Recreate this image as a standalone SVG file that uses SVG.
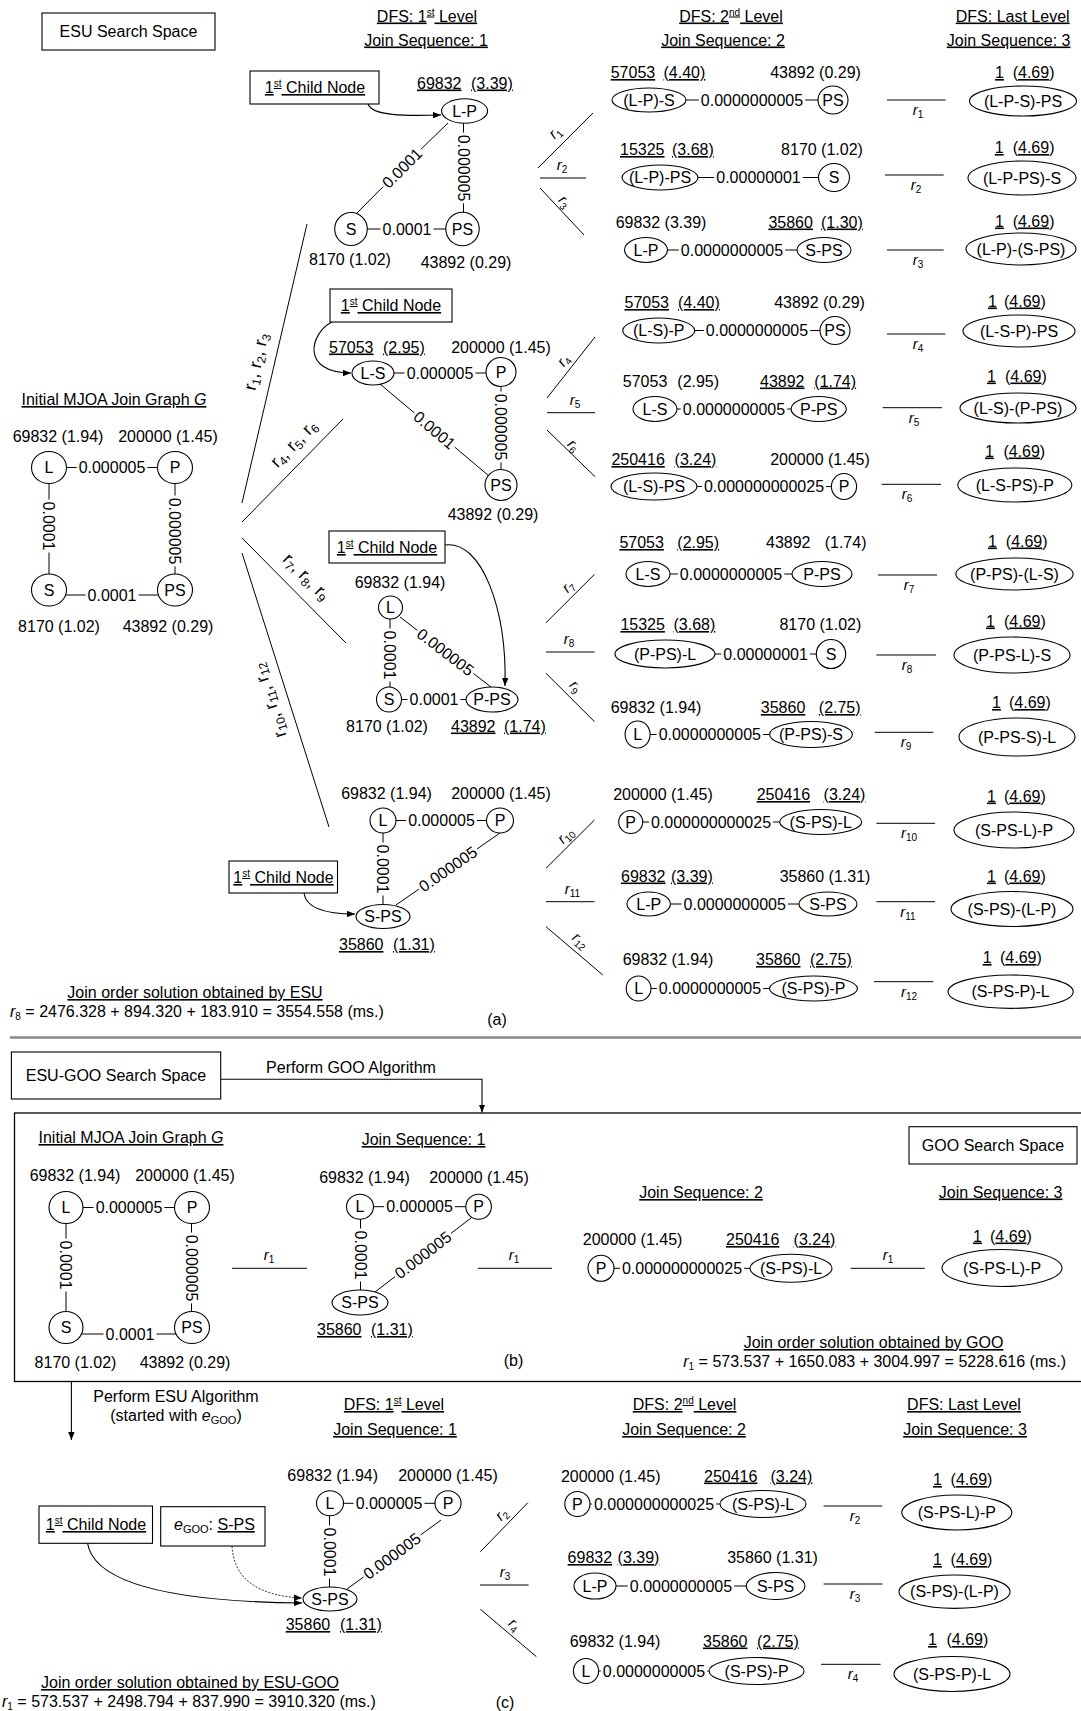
<svg xmlns="http://www.w3.org/2000/svg" width="1081" height="1711" viewBox="0 0 1081 1711">
<defs>
<style>
text{font-family:"Liberation Sans",Arial,Helvetica,sans-serif;font-size:16px;fill:#000}
.m{text-anchor:middle}
.en{text-anchor:end}
.u{text-decoration:underline}
.i{font-style:italic}
.s{font-size:10px}
.sp{font-size:10px}
.rl{font-size:15px}
.fl{font-size:18px}
.fs{font-size:12px}
.n{fill:#fff;stroke:#000;stroke-width:1.1}
.bx{fill:#fff;stroke:#000;stroke-width:1.1}
.e{stroke:#000;stroke-width:1;fill:none}
.ar{stroke:#000;stroke-width:1.1;fill:none;marker-end:url(#ah)}
.dt{stroke:#000;stroke-width:0.8;fill:none;stroke-dasharray:2 1.5;marker-end:url(#ah)}
</style>
<marker id="ah" viewBox="0 0 10 8" refX="10" refY="4" markerWidth="8" markerHeight="6.4" orient="auto" markerUnits="userSpaceOnUse"><path d="M0,0 L10,4 L0,8 z" fill="#000"/></marker>
</defs>
<rect width="1081" height="1711" fill="#fff"/>

<!-- frames -->
<line x1="10" y1="1037.5" x2="1081" y2="1037.5" stroke="#888" stroke-width="2.5"/>
<rect x="14.5" y="1113" width="1080" height="268.5" fill="none" stroke="#000" stroke-width="1.3"/>

<g id="connectors">
<!-- (a) initial graph -->
<path class="e" d="M49 467.5 H76.6 M147.4 467.5 H175"/>
<path class="e" d="M49 467.5 V499.5 M49 552.5 V590"/>
<path class="e" d="M49 595 H85.5 M138.5 595 H175"/>
<path class="e" d="M175 467.5 V495.6 M175 566.4 V590"/>
<text class="m" x="112" y="473.2">0.000005</text>
<text class="m" transform="translate(49,526) rotate(90)" y="5.7">0.0001</text>
<text class="m" x="112" y="600.7">0.0001</text>
<text class="m" transform="translate(175,531) rotate(90)" y="5.7">0.000005</text>
<!-- big fan -->
<line class="e" x1="307" y1="224" x2="242" y2="503"/>
<line class="e" x1="242" y1="522" x2="343" y2="419"/>
<line class="e" x1="242" y1="538" x2="346" y2="643"/>
<line class="e" x1="242" y1="553" x2="329" y2="827"/>
<text class="m fl" transform="translate(258,362) rotate(-77)" y="4"><tspan>r</tspan><tspan class="fs" dy="3">1</tspan><tspan dy="-3">, r</tspan><tspan class="fs" dy="3">2</tspan><tspan dy="-3">, r</tspan><tspan class="fs" dy="3">3</tspan></text>
<text class="m fl" transform="translate(295,445) rotate(-45.6)" y="4"><tspan>r</tspan><tspan class="fs" dy="3">4</tspan><tspan dy="-3">, r</tspan><tspan class="fs" dy="3">5</tspan><tspan dy="-3">, r</tspan><tspan class="fs" dy="3">6</tspan></text>
<text class="m fl" transform="translate(305,578) rotate(45.3)" y="4"><tspan>r</tspan><tspan class="fs" dy="3">7</tspan><tspan dy="-3">, r</tspan><tspan class="fs" dy="3">8</tspan><tspan dy="-3">, r</tspan><tspan class="fs" dy="3">9</tspan></text>
<text class="m fl" transform="translate(271,700) rotate(-107.6)" y="4"><tspan>r</tspan><tspan class="fs" dy="3">10</tspan><tspan dy="-3">, r</tspan><tspan class="fs" dy="3">11</tspan><tspan dy="-3">, r</tspan><tspan class="fs" dy="3">12</tspan></text>
<!-- G1 -->
<path class="e" d="M463.5 111 V132.6 M463.5 203.4 V229"/>
<line class="e" x1="448" y1="123" x2="420.8" y2="149.4"/>
<line class="e" x1="383.2" y1="186.6" x2="357" y2="213"/>
<path class="e" d="M351 229 H380.5 M433.5 229 H462.5"/>
<text class="m" transform="translate(463.5,168) rotate(90)" y="5.7">0.000005</text>
<text class="m" transform="translate(402,168) rotate(-45)" y="5.7">0.0001</text>
<text class="m" x="407" y="234.7">0.0001</text>
<path class="ar" d="M368 104 C372 116 405 116 441 115"/>
<!-- G2 -->
<path class="e" d="M373 373 H404.6 M475.4 373 H501"/>
<path class="e" d="M501 372 V391.6 M501 462.4 V485"/>
<line class="e" x1="380" y1="384" x2="414.3" y2="412.9"/>
<line class="e" x1="454.7" y1="447.1" x2="489" y2="476"/>
<text class="m" x="440" y="378.7">0.000005</text>
<text class="m" transform="translate(501,427) rotate(90)" y="5.7">0.000005</text>
<text class="m" transform="translate(434.5,430) rotate(40.2)" y="5.7">0.0001</text>
<path class="ar" d="M332 322 C310 333 300 373 351 373"/>
<!-- G3 -->
<path class="e" d="M390 607.5 V628.5 M390 681.5 V699.5"/>
<path class="e" d="M389 699.5 H407.5 M460.5 699.5 H492"/>
<line class="e" x1="400" y1="617" x2="417.4" y2="630.4"/>
<line class="e" x1="473.6" y1="673.6" x2="491" y2="687"/>
<text class="m" transform="translate(390,655) rotate(90)" y="5.7">0.0001</text>
<text class="m" x="434" y="705.2">0.0001</text>
<text class="m" transform="translate(445.5,652) rotate(37.6)" y="5.7">0.000005</text>
<path class="ar" d="M445 545 C482 540 507 610 505 686"/>
<!-- G4 -->
<path class="e" d="M383 820.5 H406.1 M476.9 820.5 H500"/>
<path class="e" d="M383 820.5 V842.5 M383 895.5 V916.5"/>
<line class="e" x1="500" y1="833" x2="477.1" y2="848.9"/>
<line class="e" x1="418.9" y1="889.1" x2="396" y2="905"/>
<text class="m" x="441.5" y="826.2">0.000005</text>
<text class="m" transform="translate(383,869) rotate(90)" y="5.7">0.0001</text>
<text class="m" transform="translate(448,869) rotate(-34.7)" y="5.7">0.000005</text>
<path class="ar" d="M304 893 C306 910 330 914 355 914"/>
<!-- small fans (a) -->
<line class="e" x1="538" y1="168" x2="593" y2="113"/>
<line class="e" x1="540" y1="178" x2="586" y2="178"/>
<line class="e" x1="540" y1="188" x2="584" y2="235"/>
<text class="m rl" transform="translate(555.5,133) rotate(-45)" y="4"><tspan class="i">r</tspan><tspan class="s" dy="3">1</tspan></text>
<text class="m rl" x="562" y="170"><tspan class="i">r</tspan><tspan class="s" dy="3">2</tspan></text>
<text class="m rl" transform="translate(564,202) rotate(45)" y="4"><tspan class="i">r</tspan><tspan class="s" dy="3">3</tspan></text>
<line class="e" x1="547" y1="398" x2="595" y2="337"/>
<line class="e" x1="547" y1="412.7" x2="595" y2="412.7"/>
<line class="e" x1="547" y1="430" x2="595" y2="476.7"/>
<text class="m rl" transform="translate(564,361) rotate(-52)" y="4"><tspan class="i">r</tspan><tspan class="s" dy="3">4</tspan></text>
<text class="m rl" x="575" y="405"><tspan class="i">r</tspan><tspan class="s" dy="3">5</tspan></text>
<text class="m rl" transform="translate(573,446) rotate(44)" y="4"><tspan class="i">r</tspan><tspan class="s" dy="3">6</tspan></text>
<line class="e" x1="546" y1="622.7" x2="594.5" y2="574.3"/>
<line class="e" x1="546" y1="652" x2="594.5" y2="652"/>
<line class="e" x1="546" y1="673.3" x2="594.5" y2="721.7"/>
<text class="m rl" transform="translate(568.6,587) rotate(-45)" y="4"><tspan class="i">r</tspan><tspan class="s" dy="3">7</tspan></text>
<text class="m rl" x="569" y="644"><tspan class="i">r</tspan><tspan class="s" dy="3">8</tspan></text>
<text class="m rl" transform="translate(575,687) rotate(45)" y="4"><tspan class="i">r</tspan><tspan class="s" dy="3">9</tspan></text>
<line class="e" x1="546" y1="868.3" x2="594.5" y2="820"/>
<line class="e" x1="546" y1="901.7" x2="594.5" y2="901.7"/>
<line class="e" x1="546" y1="926.7" x2="602.8" y2="975"/>
<text class="m rl" transform="translate(566,836) rotate(-45)" y="4"><tspan class="i">r</tspan><tspan class="s" dy="3">10</tspan></text>
<text class="m rl" x="572.5" y="894"><tspan class="i">r</tspan><tspan class="s" dy="3">11</tspan></text>
<text class="m rl" transform="translate(580,941) rotate(40)" y="4"><tspan class="i">r</tspan><tspan class="s" dy="3">12</tspan></text>
<!-- row edges (a) -->
<path class="e" d="M649 100 H698.8 M805.2 100 H833"/><text class="m" x="752" y="105.7">0.0000000005</text>
<path class="e" d="M660 177.5 H714.2 M802.8 177.5 H834"/><text class="m" x="758.5" y="183.2">0.00000001</text>
<path class="e" d="M646 250 H678.8 M785.2 250 H824"/><text class="m" x="732" y="255.7">0.0000000005</text>
<path class="e" d="M658.7 330.5 H703.8 M810.2 330.5 H835"/><text class="m" x="757" y="336.2">0.0000000005</text>
<path class="e" d="M655 409 H680.8 M787.2 409 H818.7"/><text class="m" x="734" y="414.7">0.0000000005</text>
<path class="e" d="M654 486.5 H701.9 M826.1 486.5 H844"/><text class="m" x="764" y="492.2">0.000000000025</text>
<path class="e" d="M648 574 H677.8 M784.2 574 H822"/><text class="m" x="731" y="579.7">0.0000000005</text>
<path class="e" d="M665 654 H721.3 M809.9 654 H831"/><text class="m" x="765.6" y="659.7">0.00000001</text>
<path class="e" d="M637.6 734.5 H656.6 M763 734.5 H811"/><text class="m" x="709.8" y="740.2">0.0000000005</text>
<path class="e" d="M630.7 822 H648.9 M773.1 822 H820.7"/><text class="m" x="711" y="827.7">0.000000000025</text>
<path class="e" d="M648.7 904 H681.5 M787.9 904 H828"/><text class="m" x="734.7" y="909.7">0.0000000005</text>
<path class="e" d="M638.6 988.5 H656.8 M763.2 988.5 H813.5"/><text class="m" x="710" y="994.2">0.0000000005</text>
<!-- r lines (a) -->
<line class="e" x1="887" y1="100" x2="945.5" y2="100"/><text class="m rl" x="918" y="115"><tspan class="i">r</tspan><tspan class="s" dy="3">1</tspan></text>
<line class="e" x1="885" y1="175" x2="943.7" y2="175"/><text class="m rl" x="916" y="190"><tspan class="i">r</tspan><tspan class="s" dy="3">2</tspan></text>
<line class="e" x1="887" y1="250" x2="943.7" y2="250"/><text class="m rl" x="918" y="265"><tspan class="i">r</tspan><tspan class="s" dy="3">3</tspan></text>
<line class="e" x1="887" y1="334" x2="945.5" y2="334"/><text class="m rl" x="918" y="349"><tspan class="i">r</tspan><tspan class="s" dy="3">4</tspan></text>
<line class="e" x1="882.6" y1="407.7" x2="942" y2="407.7"/><text class="m rl" x="914" y="422.7"><tspan class="i">r</tspan><tspan class="s" dy="3">5</tspan></text>
<line class="e" x1="881.6" y1="484.3" x2="941" y2="484.3"/><text class="m rl" x="907" y="499.3"><tspan class="i">r</tspan><tspan class="s" dy="3">6</tspan></text>
<line class="e" x1="878" y1="575" x2="937" y2="575"/><text class="m rl" x="909" y="590"><tspan class="i">r</tspan><tspan class="s" dy="3">7</tspan></text>
<line class="e" x1="876.4" y1="655" x2="936" y2="655"/><text class="m rl" x="907" y="670"><tspan class="i">r</tspan><tspan class="s" dy="3">8</tspan></text>
<line class="e" x1="874.7" y1="732.3" x2="933.4" y2="732.3"/><text class="m rl" x="906" y="747.3"><tspan class="i">r</tspan><tspan class="s" dy="3">9</tspan></text>
<line class="e" x1="876.4" y1="823.3" x2="935" y2="823.3"/><text class="m rl" x="909" y="838.3"><tspan class="i">r</tspan><tspan class="s" dy="3">10</tspan></text>
<line class="e" x1="876.4" y1="901.7" x2="935" y2="901.7"/><text class="m rl" x="908" y="916.7"><tspan class="i">r</tspan><tspan class="s" dy="3">11</tspan></text>
<line class="e" x1="874" y1="981.7" x2="933.4" y2="981.7"/><text class="m rl" x="909" y="996.7"><tspan class="i">r</tspan><tspan class="s" dy="3">12</tspan></text>

<!-- (b) -->
<path class="ar" d="M220.7 1079.3 H482 V1112.5"/>
<path class="e" d="M66 1207.5 H93.6 M164.4 1207.5 H192"/>
<path class="e" d="M66 1207.5 V1238.5 M66 1291.5 V1327.5"/>
<path class="e" d="M66 1334 H103.5 M156.5 1334 H192"/>
<path class="e" d="M191.5 1207.5 V1232.6 M191.5 1303.4 V1327.5"/>
<text class="m" x="129" y="1213.2">0.000005</text>
<text class="m" transform="translate(66,1265) rotate(90)" y="5.7">0.0001</text>
<text class="m" x="130" y="1339.7">0.0001</text>
<text class="m" transform="translate(191.5,1268) rotate(90)" y="5.7">0.000005</text>
<line class="e" x1="232" y1="1268.3" x2="307" y2="1268.3"/><text class="m rl" x="269" y="1260"><tspan class="i">r</tspan><tspan class="s" dy="3">1</tspan></text>
<path class="e" d="M360 1206.7 H384.1 M454.9 1206.7 H478.6"/>
<path class="e" d="M360.5 1206.7 V1228.5 M360.5 1281.5 V1302.5"/>
<line class="e" x1="471" y1="1218" x2="451" y2="1233.4"/>
<line class="e" x1="395" y1="1276.6" x2="375" y2="1292"/>
<text class="m" x="419.5" y="1212.4">0.000005</text>
<text class="m" transform="translate(360.5,1255) rotate(90)" y="5.7">0.0001</text>
<text class="m" transform="translate(423,1255) rotate(-37.6)" y="5.7">0.000005</text>
<line class="e" x1="478" y1="1268.3" x2="552" y2="1268.3"/><text class="m rl" x="514" y="1260"><tspan class="i">r</tspan><tspan class="s" dy="3">1</tspan></text>
<path class="e" d="M601 1268.3 H619.9 M744.1 1268.3 H791"/><text class="m" x="682" y="1274">0.000000000025</text>
<line class="e" x1="850.6" y1="1268.3" x2="924.7" y2="1268.3"/><text class="m rl" x="888" y="1260"><tspan class="i">r</tspan><tspan class="s" dy="3">1</tspan></text>

<!-- (c) -->
<path class="ar" d="M71.4 1382 V1440"/>
<path class="e" d="M330 1503.3 H353.6 M424.4 1503.3 H448"/>
<path class="e" d="M329.5 1503.3 V1525.5 M329.5 1578.5 V1599"/>
<line class="e" x1="441" y1="1520" x2="420.5" y2="1535"/>
<line class="e" x1="363.5" y1="1577" x2="343" y2="1592"/>
<text class="m" x="389" y="1509">0.000005</text>
<text class="m" transform="translate(329.5,1552) rotate(90)" y="5.7">0.0001</text>
<text class="m" transform="translate(392,1556) rotate(-36.3)" y="5.7">0.000005</text>
<path class="ar" d="M87.5 1543 C95 1590 200 1602 302 1603"/>
<path class="dt" d="M232 1546 C234 1582 262 1596 302 1598"/>
<line class="e" x1="480.4" y1="1551.7" x2="527.9" y2="1502.7"/>
<line class="e" x1="480" y1="1585" x2="528.6" y2="1585"/>
<line class="e" x1="480.4" y1="1609.3" x2="536.4" y2="1656.7"/>
<text class="m rl" transform="translate(502,1515) rotate(-46)" y="4"><tspan class="i">r</tspan><tspan class="s" dy="3">2</tspan></text>
<text class="m rl" x="505" y="1577"><tspan class="i">r</tspan><tspan class="s" dy="3">3</tspan></text>
<text class="m rl" transform="translate(514,1625) rotate(40)" y="4"><tspan class="i">r</tspan><tspan class="s" dy="3">4</tspan></text>
<path class="e" d="M577.4 1504 H591.9 M716.1 1504 H763"/><text class="m" x="654" y="1509.7">0.000000000025</text>
<path class="e" d="M595 1586 H627.8 M734.2 1586 H775.6"/><text class="m" x="681" y="1591.7">0.0000000005</text>
<path class="e" d="M586 1671 H600.8 M707.2 1671 H756.6"/><text class="m" x="654" y="1676.7">0.0000000005</text>
<line class="e" x1="823.6" y1="1506" x2="882.3" y2="1506"/><text class="m rl" x="855" y="1521"><tspan class="i">r</tspan><tspan class="s" dy="3">2</tspan></text>
<line class="e" x1="823.6" y1="1584" x2="882.3" y2="1584"/><text class="m rl" x="855" y="1599"><tspan class="i">r</tspan><tspan class="s" dy="3">3</tspan></text>
<line class="e" x1="821" y1="1664.3" x2="880.6" y2="1664.3"/><text class="m rl" x="853" y="1679.3"><tspan class="i">r</tspan><tspan class="s" dy="3">4</tspan></text>
</g>

<!-- headers and boxes -->
<g id="box-esu"><rect class="bx" x="42" y="13" width="173" height="37"/><text class="m" x="128.5" y="37.2">ESU Search Space</text></g>
<g id="headers-a">
<text class="m u" x="427" y="21.5">DFS: 1<tspan class="sp" dy="-6">st</tspan><tspan dy="6"> Level</tspan></text>
<text class="m u" x="426" y="45.5">Join Sequence: 1</text>
<text class="m u" x="731" y="21.5">DFS: 2<tspan class="sp" dy="-6">nd</tspan><tspan dy="6"> Level</tspan></text>
<text class="m u" x="723" y="45.5">Join Sequence: 2</text>
<text class="m u" x="1012.7" y="21.5">DFS: Last Level</text>
<text class="m u" x="1008.6" y="45.5">Join Sequence: 3</text>
<text class="m u" x="114" y="405">Initial MJOA Join Graph <tspan class="i">G</tspan></text>
</g>

<g id="child-boxes-a">
<rect class="bx" x="250" y="71" width="129" height="33"/><text class="m u" x="315" y="93">1<tspan class="sp" dy="-6">st</tspan><tspan dy="6"> Child Node</tspan></text>
<rect class="bx" x="330" y="289" width="122" height="33"/><text class="m u" x="391" y="311">1<tspan class="sp" dy="-6">st</tspan><tspan dy="6"> Child Node</tspan></text>
<rect class="bx" x="329" y="531" width="116" height="32"/><text class="m u" x="387" y="553">1<tspan class="sp" dy="-6">st</tspan><tspan dy="6"> Child Node</tspan></text>
<rect class="bx" x="229" y="861" width="108.5" height="32"/><text class="m u" x="283.5" y="883">1<tspan class="sp" dy="-6">st</tspan><tspan dy="6"> Child Node</tspan></text>
</g>

<!-- (a) initial graph nodes -->
<g id="a-init-L"><ellipse class="n" cx="49" cy="467.5" rx="17.5" ry="16"/><text class="m" x="49" y="473.2">L</text></g>
<g id="a-init-P"><ellipse class="n" cx="175" cy="467.5" rx="17.5" ry="16"/><text class="m" x="175" y="473.2">P</text></g>
<g id="a-init-S"><ellipse class="n" cx="49" cy="590" rx="17.5" ry="16"/><text class="m" x="49" y="595.7">S</text></g>
<g id="a-init-PS"><ellipse class="n" cx="175" cy="590" rx="17.5" ry="16"/><text class="m" x="175" y="595.7">PS</text></g>

<!-- (a) G1 -->
<g id="a-g1-LP"><ellipse class="n" cx="464.6" cy="111" rx="23" ry="12.2"/><text class="m" x="464.6" y="116.7">L-P</text></g>
<g id="a-g1-S"><ellipse class="n" cx="351" cy="229" rx="16.3" ry="16.5"/><text class="m" x="351" y="234.7">S</text></g>
<g id="a-g1-PS"><ellipse class="n" cx="462.5" cy="229" rx="16.7" ry="16.7"/><text class="m" x="462.5" y="234.7">PS</text></g>
<!-- (a) G2 -->
<g id="a-g2-LS"><ellipse class="n" cx="373" cy="373" rx="21" ry="12"/><text class="m" x="373" y="378.7">L-S</text></g>
<g id="a-g2-P"><ellipse class="n" cx="501" cy="372" rx="15" ry="14.5"/><text class="m" x="501" y="377.7">P</text></g>
<g id="a-g2-PS"><ellipse class="n" cx="501" cy="485" rx="16" ry="15.5"/><text class="m" x="501" y="490.7">PS</text></g>
<!-- (a) G3 -->
<g id="a-g3-L"><ellipse class="n" cx="390.5" cy="607.5" rx="12" ry="11.5"/><text class="m" x="390.5" y="613.2">L</text></g>
<g id="a-g3-S"><ellipse class="n" cx="389" cy="699.5" rx="12.5" ry="12.5"/><text class="m" x="389" y="705.2">S</text></g>
<g id="a-g3-PPS"><ellipse class="n" cx="492" cy="699.5" rx="26" ry="12.5"/><text class="m" x="492" y="705.2">P-PS</text></g>
<!-- (a) G4 -->
<g id="a-g4-L"><ellipse class="n" cx="383" cy="820.5" rx="13" ry="12.5"/><text class="m" x="383" y="826.2">L</text></g>
<g id="a-g4-P"><ellipse class="n" cx="500" cy="820.5" rx="13.5" ry="12.5"/><text class="m" x="500" y="826.2">P</text></g>
<g id="a-g4-SPS"><ellipse class="n" cx="383" cy="916.5" rx="27" ry="12"/><text class="m" x="383" y="922.2">S-PS</text></g>

<!-- (a) second level rows -->
<g id="a-r1-L"><ellipse class="n" cx="649" cy="100" rx="37" ry="12"/><text class="m" x="649" y="105.7">(L-P)-S</text></g>
<g id="a-r1-R"><ellipse class="n" cx="833" cy="100" rx="15" ry="14"/><text class="m" x="833" y="105.7">PS</text></g>
<g id="a-r2-L"><ellipse class="n" cx="660" cy="177.5" rx="38" ry="12.5"/><text class="m" x="660" y="183.2">(L-P)-PS</text></g>
<g id="a-r2-R"><ellipse class="n" cx="834" cy="177.5" rx="15.5" ry="14"/><text class="m" x="834" y="183.2">S</text></g>
<g id="a-r3-L"><ellipse class="n" cx="646" cy="250" rx="21.5" ry="12.5"/><text class="m" x="646" y="255.7">L-P</text></g>
<g id="a-r3-R"><ellipse class="n" cx="824" cy="250" rx="27" ry="12.5"/><text class="m" x="824" y="255.7">S-PS</text></g>
<g id="a-r4-L"><ellipse class="n" cx="658.7" cy="330.5" rx="36" ry="12.5"/><text class="m" x="658.7" y="336.2">(L-S)-P</text></g>
<g id="a-r4-R"><ellipse class="n" cx="835" cy="330.5" rx="15" ry="14"/><text class="m" x="835" y="336.2">PS</text></g>
<g id="a-r5-L"><ellipse class="n" cx="655" cy="409" rx="22" ry="12.5"/><text class="m" x="655" y="414.7">L-S</text></g>
<g id="a-r5-R"><ellipse class="n" cx="818.7" cy="409" rx="27.6" ry="12.5"/><text class="m" x="818.7" y="414.7">P-PS</text></g>
<g id="a-r6-L"><ellipse class="n" cx="654" cy="486.5" rx="43" ry="13.5"/><text class="m" x="654" y="492.2">(L-S)-PS</text></g>
<g id="a-r6-R"><ellipse class="n" cx="844" cy="486.5" rx="12.6" ry="13"/><text class="m" x="844" y="492.2">P</text></g>
<g id="a-r7-L"><ellipse class="n" cx="648" cy="574" rx="22" ry="12.5"/><text class="m" x="648" y="579.7">L-S</text></g>
<g id="a-r7-R"><ellipse class="n" cx="822" cy="574" rx="30" ry="12.5"/><text class="m" x="822" y="579.7">P-PS</text></g>
<g id="a-r8-L"><ellipse class="n" cx="665" cy="654" rx="50" ry="14"/><text class="m" x="665" y="659.7">(P-PS)-L</text></g>
<g id="a-r8-R"><ellipse class="n" cx="831" cy="654" rx="14.7" ry="14.5"/><text class="m" x="831" y="659.7">S</text></g>
<g id="a-r9-L"><ellipse class="n" cx="637.6" cy="734.5" rx="12.5" ry="13.5"/><text class="m" x="637.6" y="740.2">L</text></g>
<g id="a-r9-R"><ellipse class="n" cx="811" cy="734.5" rx="41.4" ry="13"/><text class="m" x="811" y="740.2">(P-PS)-S</text></g>
<g id="a-r10-L"><ellipse class="n" cx="630.7" cy="822" rx="12" ry="11.5"/><text class="m" x="630.7" y="827.7">P</text></g>
<g id="a-r10-R"><ellipse class="n" cx="820.7" cy="822" rx="41" ry="12.5"/><text class="m" x="820.7" y="827.7">(S-PS)-L</text></g>
<g id="a-r11-L"><ellipse class="n" cx="648.7" cy="904" rx="21.7" ry="12"/><text class="m" x="648.7" y="909.7">L-P</text></g>
<g id="a-r11-R"><ellipse class="n" cx="828" cy="904" rx="29" ry="12"/><text class="m" x="828" y="909.7">S-PS</text></g>
<g id="a-r12-L"><ellipse class="n" cx="638.6" cy="988.5" rx="12.4" ry="12.5"/><text class="m" x="638.6" y="994.2">L</text></g>
<g id="a-r12-R"><ellipse class="n" cx="813.5" cy="988.5" rx="44" ry="12.5"/><text class="m" x="813.5" y="994.2">(S-PS)-P</text></g>

<!-- (a) final column -->
<g id="a-f1"><ellipse class="n" cx="1023" cy="101" rx="53.5" ry="15"/><text class="m" x="1023" y="106.7">(L-P-S)-PS</text></g>
<g id="a-f2"><ellipse class="n" cx="1022" cy="178" rx="54" ry="17"/><text class="m" x="1022" y="183.7">(L-P-PS)-S</text></g>
<g id="a-f3"><ellipse class="n" cx="1021" cy="249" rx="55" ry="16"/><text class="m" x="1021" y="254.7">(L-P)-(S-PS)</text></g>
<g id="a-f4"><ellipse class="n" cx="1019" cy="331" rx="56" ry="16"/><text class="m" x="1019" y="336.7">(L-S-P)-PS</text></g>
<g id="a-f5"><ellipse class="n" cx="1018" cy="408" rx="58" ry="15"/><text class="m" x="1018" y="413.7">(L-S)-(P-PS)</text></g>
<g id="a-f6"><ellipse class="n" cx="1014.8" cy="485" rx="57" ry="17"/><text class="m" x="1014.8" y="490.7">(L-S-PS)-P</text></g>
<g id="a-f7"><ellipse class="n" cx="1014.5" cy="574" rx="58.6" ry="16"/><text class="m" x="1014.5" y="579.7">(P-PS)-(L-S)</text></g>
<g id="a-f8"><ellipse class="n" cx="1012" cy="655" rx="58" ry="18"/><text class="m" x="1012" y="660.7">(P-PS-L)-S</text></g>
<g id="a-f9"><ellipse class="n" cx="1017" cy="737" rx="58" ry="19"/><text class="m" x="1017" y="742.7">(P-PS-S)-L</text></g>
<g id="a-f10"><ellipse class="n" cx="1014" cy="830" rx="60" ry="18"/><text class="m" x="1014" y="835.7">(S-PS-L)-P</text></g>
<g id="a-f11"><ellipse class="n" cx="1012" cy="909" rx="61" ry="17.5"/><text class="m" x="1012" y="914.7">(S-PS)-(L-P)</text></g>
<g id="a-f12"><ellipse class="n" cx="1010.6" cy="991.7" rx="62.6" ry="16.7"/><text class="m" x="1010.6" y="997.4">(S-PS-P)-L</text></g>

<!-- (a) annotations -->
<g id="a-annot">
<text class="m" x="58" y="441.5">69832 (1.94)</text>
<text class="m" x="168" y="441.5">200000 (1.45)</text>
<text class="m" x="59" y="631.5">8170 (1.02)</text>
<text class="m" x="168" y="631.5">43892 (0.29)</text>
<text class="u" x="417" y="88.5">69832</text><text class="u" x="471" y="88.5">(3.39)</text>
<text class="m" x="350" y="265">8170 (1.02)</text>
<text class="m" x="466" y="268">43892 (0.29)</text>
<text class="u" x="329" y="352.5">57053</text><text class="u" x="383" y="352.5">(2.95)</text>
<text class="m" x="501" y="352.5">200000 (1.45)</text>
<text class="m" x="493" y="520">43892 (0.29)</text>
<text class="m" x="400" y="588">69832 (1.94)</text>
<text class="m" x="387" y="731.5">8170 (1.02)</text>
<text class="u" x="451" y="731.5">43892</text><text class="u" x="504" y="731.5">(1.74)</text>
<text class="m" x="386.5" y="799">69832 (1.94)</text>
<text class="m" x="501" y="799">200000 (1.45)</text>
<text class="u" x="339" y="950">35860</text><text class="u" x="393" y="950">(1.31)</text>

<text class="u" x="610.7" y="78">57053</text><text class="u" x="663.5" y="78">(4.40)</text><text class="m" x="815.5" y="78">43892 (0.29)</text>
<text class="u" x="620" y="155">15325</text><text class="u" x="672" y="155">(3.68)</text><text class="m" x="822" y="155">8170 (1.02)</text>
<text class="m" x="661" y="227.5">69832 (3.39)</text><text class="u" x="768.4" y="227.5">35860</text><text class="u" x="821" y="227.5">(1.30)</text>
<text class="u" x="624.5" y="308">57053</text><text class="u" x="678" y="308">(4.40)</text><text class="m" x="819.5" y="308">43892 (0.29)</text>
<text x="622.8" y="386.5">57053</text><text x="677.3" y="386.5">(2.95)</text><text class="u" x="760" y="386.5">43892</text><text class="u" x="814.3" y="386.5">(1.74)</text>
<text class="u" x="611.4" y="465">250416</text><text class="u" x="674.6" y="465">(3.24)</text><text class="m" x="820" y="465">200000 (1.45)</text>
<text class="u" x="619.4" y="548">57053</text><text class="u" x="677.3" y="548">(2.95)</text><text x="766" y="548">43892</text><text x="824.7" y="548">(1.74)</text>
<text class="u" x="620.4" y="630">15325</text><text class="u" x="673.5" y="630">(3.68)</text><text class="m" x="820.4" y="630">8170 (1.02)</text>
<text class="m" x="656" y="713">69832 (1.94)</text><text class="u" x="760.8" y="713">35860</text><text class="u" x="818.8" y="713">(2.75)</text>
<text class="m" x="663" y="800">200000 (1.45)</text><text class="u" x="756.7" y="800">250416</text><text class="u" x="823.6" y="800">(3.24)</text>
<text class="u" x="621" y="881.5">69832</text><text class="u" x="671" y="881.5">(3.39)</text><text class="m" x="825" y="881.5">35860 (1.31)</text>
<text class="m" x="668" y="965">69832 (1.94)</text><text class="u" x="756" y="965">35860</text><text class="u" x="810" y="965">(2.75)</text>

<text x="995" y="78"><tspan class="u">1</tspan><tspan x="1012.7">(</tspan><tspan class="u">4.69</tspan>)</text>
<text x="994.8" y="153"><tspan class="u">1</tspan><tspan x="1012.7">(</tspan><tspan class="u">4.69</tspan>)</text>
<text x="995" y="226.5"><tspan class="u">1</tspan><tspan x="1012.7">(</tspan><tspan class="u">4.69</tspan>)</text>
<text x="988" y="306.5"><tspan class="u">1</tspan><tspan x="1004">(</tspan><tspan class="u">4.69</tspan>)</text>
<text x="987" y="381.5"><tspan class="u">1</tspan><tspan x="1005">(</tspan><tspan class="u">4.69</tspan>)</text>
<text x="985" y="456.5"><tspan class="u">1</tspan><tspan x="1003.4">(</tspan><tspan class="u">4.69</tspan>)</text>
<text x="988" y="546.5"><tspan class="u">1</tspan><tspan x="1005.8">(</tspan><tspan class="u">4.69</tspan>)</text>
<text x="986" y="626.5"><tspan class="u">1</tspan><tspan x="1004">(</tspan><tspan class="u">4.69</tspan>)</text>
<text x="992" y="708"><tspan class="u">1</tspan><tspan x="1009">(</tspan><tspan class="u">4.69</tspan>)</text>
<text x="987" y="801.5"><tspan class="u">1</tspan><tspan x="1004">(</tspan><tspan class="u">4.69</tspan>)</text>
<text x="987" y="881.5"><tspan class="u">1</tspan><tspan x="1004">(</tspan><tspan class="u">4.69</tspan>)</text>
<text x="982.7" y="963"><tspan class="u">1</tspan><tspan x="1000">(</tspan><tspan class="u">4.69</tspan>)</text>

<text class="m u" x="195" y="998">Join order solution obtained by ESU</text>
<text x="10" y="1017"><tspan class="i">r</tspan><tspan class="s" dy="3">8</tspan><tspan dy="-3"> = 2476.328 + 894.320 + 183.910 = 3554.558 (ms.)</tspan></text>
<text class="m" x="497" y="1025">(a)</text>
</g>

<!-- (b) -->
<g id="box-esugoo"><rect class="bx" x="11.4" y="1052" width="209.3" height="47"/><text class="m" x="116" y="1081.2">ESU-GOO Search Space</text></g>
<g id="box-goo"><rect class="bx" x="909" y="1126.7" width="168" height="37.3"/><text class="m" x="993" y="1151">GOO Search Space</text></g>
<g id="b-annot">
<text class="m" x="351" y="1073">Perform GOO Algorithm</text>
<text class="m u" x="131" y="1143">Initial MJOA Join Graph <tspan class="i">G</tspan></text>
<text class="m u" x="423.5" y="1145">Join Sequence: 1</text>
<text class="m u" x="701" y="1198">Join Sequence: 2</text>
<text class="m u" x="1000.7" y="1197.5">Join Sequence: 3</text>
<text class="m" x="75" y="1181">69832 (1.94)</text>
<text class="m" x="185" y="1181">200000 (1.45)</text>
<text class="m" x="75.5" y="1368">8170 (1.02)</text>
<text class="m" x="185" y="1368">43892 (0.29)</text>
<text class="m" x="364.5" y="1183">69832 (1.94)</text>
<text class="m" x="479" y="1183">200000 (1.45)</text>
<text class="u" x="317" y="1335">35860</text><text class="u" x="371" y="1335">(1.31)</text>
<text class="m" x="632.6" y="1245">200000 (1.45)</text>
<text class="u" x="726" y="1245">250416</text><text class="u" x="793.6" y="1245">(3.24)</text>
<text x="973" y="1241.5"><tspan class="u">1</tspan><tspan x="990">(</tspan><tspan class="u">4.69</tspan>)</text>
<text class="m u" x="873.5" y="1348">Join order solution obtained by GOO</text>
<text class="en" x="1066" y="1366.5"><tspan class="i">r</tspan><tspan class="s" dy="3">1</tspan><tspan dy="-3"> = 573.537 + 1650.083 + 3004.997 = 5228.616 (ms.)</tspan></text>
<text class="m" x="513.5" y="1366">(b)</text>
</g>
<g id="b-init-L"><ellipse class="n" cx="66" cy="1207.5" rx="17" ry="16"/><text class="m" x="66" y="1213.2">L</text></g>
<g id="b-init-P"><ellipse class="n" cx="192" cy="1207.5" rx="17.5" ry="16"/><text class="m" x="192" y="1213.2">P</text></g>
<g id="b-init-S"><ellipse class="n" cx="66" cy="1327.5" rx="17" ry="16"/><text class="m" x="66" y="1333.2">S</text></g>
<g id="b-init-PS"><ellipse class="n" cx="192" cy="1327.5" rx="17.5" ry="16"/><text class="m" x="192" y="1333.2">PS</text></g>
<g id="b-js1-L"><ellipse class="n" cx="360" cy="1206.7" rx="13.5" ry="12.5"/><text class="m" x="360" y="1212.4">L</text></g>
<g id="b-js1-P"><ellipse class="n" cx="478.6" cy="1206.7" rx="12.8" ry="12.5"/><text class="m" x="478.6" y="1212.4">P</text></g>
<g id="b-js1-SPS"><ellipse class="n" cx="360" cy="1302.5" rx="28" ry="12.5"/><text class="m" x="360" y="1308.2">S-PS</text></g>
<g id="b-js2-P"><ellipse class="n" cx="601" cy="1268.3" rx="13" ry="13"/><text class="m" x="601" y="1274">P</text></g>
<g id="b-js2-SPSL"><ellipse class="n" cx="791" cy="1268.3" rx="41" ry="14"/><text class="m" x="791" y="1274">(S-PS)-L</text></g>
<g id="b-js3"><ellipse class="n" cx="1002" cy="1268" rx="60" ry="18.5"/><text class="m" x="1002" y="1273.7">(S-PS-L)-P</text></g>

<!-- (c) -->
<g id="c-annot">
<text class="m" x="176" y="1401.5">Perform ESU Algorithm</text>
<text class="m" x="176" y="1421">(started with <tspan class="i">e</tspan><tspan font-size="11" dy="3">GOO</tspan><tspan dy="-3">)</tspan></text>
<text class="m u" x="394" y="1410">DFS: 1<tspan class="sp" dy="-6">st</tspan><tspan dy="6"> Level</tspan></text>
<text class="m u" x="395" y="1435">Join Sequence: 1</text>
<text class="m u" x="684.6" y="1410">DFS: 2<tspan class="sp" dy="-6">nd</tspan><tspan dy="6"> Level</tspan></text>
<text class="m u" x="684" y="1435">Join Sequence: 2</text>
<text class="m u" x="964" y="1410">DFS: Last Level</text>
<text class="m u" x="965" y="1435">Join Sequence: 3</text>
<text class="m" x="332.7" y="1481">69832 (1.94)</text>
<text class="m" x="448" y="1481">200000 (1.45)</text>
<text class="u" x="285.7" y="1630">35860</text><text class="u" x="340" y="1630">(1.31)</text>
<text class="m" x="610.7" y="1481.5">200000 (1.45)</text><text class="u" x="704" y="1481.5">250416</text><text class="u" x="770.5" y="1481.5">(3.24)</text>
<text class="u" x="567.6" y="1563">69832</text><text class="u" x="617.6" y="1563">(3.39)</text><text class="m" x="772.5" y="1563">35860 (1.31)</text>
<text class="m" x="615" y="1646.5">69832 (1.94)</text><text class="u" x="703" y="1646.5">35860</text><text class="u" x="757" y="1646.5">(2.75)</text>
<text x="933" y="1485"><tspan class="u">1</tspan><tspan x="950.6">(</tspan><tspan class="u">4.69</tspan>)</text>
<text x="933" y="1565"><tspan class="u">1</tspan><tspan x="950.6">(</tspan><tspan class="u">4.69</tspan>)</text>
<text x="928" y="1645"><tspan class="u">1</tspan><tspan x="946.5">(</tspan><tspan class="u">4.69</tspan>)</text>
<text class="m u" x="190" y="1688">Join order solution obtained by ESU-GOO</text>
<text x="2" y="1707"><tspan class="i">r</tspan><tspan class="s" dy="3">1</tspan><tspan dy="-3"> = 573.537 + 2498.794 + 837.990 = 3910.320 (ms.)</tspan></text>
<text class="m" x="505" y="1708">(c)</text>
</g>
<g id="c-box-child"><rect class="bx" x="39" y="1506" width="113.5" height="37.3"/><text class="m u" x="96" y="1530">1<tspan class="sp" dy="-6">st</tspan><tspan dy="6"> Child Node</tspan></text></g>
<g id="c-box-egoo"><rect class="bx" x="160.7" y="1506.7" width="104.3" height="39.3"/><text x="174" y="1530"><tspan class="i">e</tspan><tspan font-size="11" dy="3">GOO</tspan><tspan dy="-3">: </tspan><tspan class="u">S-PS</tspan></text></g>
<g id="c-js1-L"><ellipse class="n" cx="330" cy="1503.3" rx="13.5" ry="12.5"/><text class="m" x="330" y="1509">L</text></g>
<g id="c-js1-P"><ellipse class="n" cx="448" cy="1503.3" rx="13" ry="12.5"/><text class="m" x="448" y="1509">P</text></g>
<g id="c-js1-SPS"><ellipse class="n" cx="330" cy="1599" rx="27" ry="12"/><text class="m" x="330" y="1604.7">S-PS</text></g>
<g id="c-r2-L"><ellipse class="n" cx="577.4" cy="1504" rx="12.6" ry="12.5"/><text class="m" x="577.4" y="1509.7">P</text></g>
<g id="c-r2-R"><ellipse class="n" cx="763" cy="1504" rx="43" ry="13.5"/><text class="m" x="763" y="1509.7">(S-PS)-L</text></g>
<g id="c-r3-L"><ellipse class="n" cx="595" cy="1586" rx="21" ry="13"/><text class="m" x="595" y="1591.7">L-P</text></g>
<g id="c-r3-R"><ellipse class="n" cx="775.6" cy="1586" rx="29.3" ry="13.5"/><text class="m" x="775.6" y="1591.7">S-PS</text></g>
<g id="c-r4-L"><ellipse class="n" cx="586" cy="1671" rx="12.6" ry="12.5"/><text class="m" x="586" y="1676.7">L</text></g>
<g id="c-r4-R"><ellipse class="n" cx="756.6" cy="1671" rx="47.5" ry="13.5"/><text class="m" x="756.6" y="1676.7">(S-PS)-P</text></g>
<g id="c-f2"><ellipse class="n" cx="956.8" cy="1512.5" rx="55" ry="17.5"/><text class="m" x="956.8" y="1518.2">(S-PS-L)-P</text></g>
<g id="c-f3"><ellipse class="n" cx="954.5" cy="1591.7" rx="55.5" ry="16.7"/><text class="m" x="954.5" y="1597.4">(S-PS)-(L-P)</text></g>
<g id="c-f4"><ellipse class="n" cx="952" cy="1674" rx="58" ry="17.5"/><text class="m" x="952" y="1679.7">(S-PS-P)-L</text></g>
</svg>
